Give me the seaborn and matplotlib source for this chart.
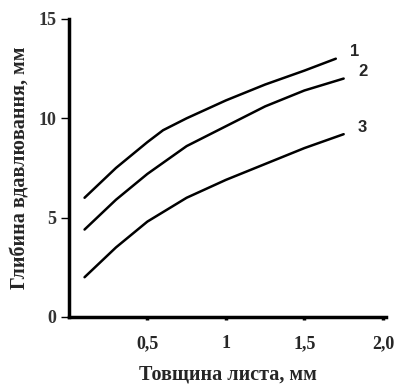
import numpy as np
import pandas as pd
import seaborn as sns
import matplotlib
matplotlib.use("Agg")
from matplotlib import pyplot as plt

# curve data
x_1 = [0.1, 0.3, 0.5, 0.6, 0.75, 1.0, 1.25, 1.5, 1.7]
depth_1 = [6.0, 7.5, 8.8, 9.4, 10.0, 10.9, 11.7, 12.4, 13.0]
x_2 = [0.1, 0.3, 0.5, 0.75, 1.0, 1.25, 1.5, 1.75]
depth_2 = [4.4, 5.9, 7.2, 8.6, 9.6, 10.6, 11.4, 12.0]
x_3 = [0.1, 0.3, 0.5, 0.75, 1.0, 1.25, 1.5, 1.75]
depth_3 = [2.0, 3.5, 4.8, 6.0, 6.9, 7.7, 8.5, 9.2]
curve_names = ["1", "2", "3"]

x_ticks = [0.5, 1.0, 1.5, 2.0]
x_tick_labels = ["0,5", "1", "1,5", "2,0"]
y_ticks = [0, 5, 10, 15]

_frames = []
for _name, _x, _y in zip(curve_names, [x_1, x_2, x_3], [depth_1, depth_2, depth_3]):
    _frames.append(pd.DataFrame({"x": _x, "y": _y, "curve": _name}))
_df = pd.concat(_frames, ignore_index=True)

sns.set_style("white")
plt.rcParams["font.family"] = ["Liberation Serif", "DejaVu Serif"]

fig = plt.figure(figsize=(3.98, 3.87), dpi=100)
ax = fig.add_axes([0.173, 0.181, 0.797, 0.77])

sns.lineplot(
    data=_df, x="x", y="y", units="curve", estimator=None,
    color="black", linewidth=1.8, ax=ax, legend=False,
)

# number labels at the end of each curve
for _name, _x, _y in zip(curve_names, [x_1, x_2, x_3], [depth_1, depth_2, depth_3]):
    ax.text(_x[-1] + 0.12, _y[-1] + 0.35, _name, fontsize=12, fontweight="bold",
            family="Liberation Sans", ha="center", va="center")

ax.set_xlim(0, 2.02)
ax.set_ylim(0, 15)
ax.set_xticks(x_ticks)
ax.set_xticklabels(x_tick_labels)
ax.set_yticks(y_ticks)

for _t in ax.get_xticklabels():
    _t.set_fontweight("bold")
    _t.set_fontsize(13)
for _t in ax.get_yticklabels():
    _t.set_fontweight("bold")
    _t.set_fontsize(13)
    _t.set_color("#333333")

ax.tick_params(axis="x", bottom=True, direction="out", length=2, width=2.5, pad=11, color="black")
ax.tick_params(axis="y", left=True, direction="out", length=6, width=1, pad=3, color="black")

sns.despine(ax=ax)
ax.spines["left"].set_linewidth(2.5)
ax.spines["bottom"].set_linewidth(2.5)
ax.spines["left"].set_color("black")
ax.spines["bottom"].set_color("black")

ax.set_xlabel("Товщина листа, мм", fontsize=14.5, fontweight="bold", labelpad=9)
ax.set_ylabel("Глибина вдавлювання, мм", fontsize=14.5, fontweight="bold", labelpad=6)

fig.savefig("out.png", dpi=100)
